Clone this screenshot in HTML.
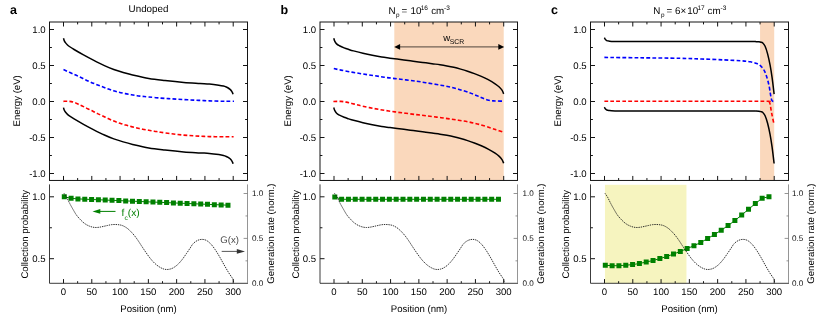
<!DOCTYPE html>
<html><head><meta charset="utf-8"><title>Band diagrams</title>
<style>
html,body{margin:0;padding:0;background:#fff;}
body{width:830px;height:319px;overflow:hidden;font-family:"Liberation Sans", sans-serif;}
svg{display:block;will-change:transform;text-rendering:geometricPrecision;font-family:"Liberation Sans", sans-serif;}
</style></head><body>
<svg width="830" height="319" viewBox="0 0 830 319">
<rect width="830" height="319" fill="#fff"/>
<rect x="49.5" y="22" width="198" height="158.45" fill="none" stroke="#141414" stroke-width="1"/>
<path d="M63.5 22v4.5M63.5 180.45v-4.5M63.5 283.3v-4.2M77.64 22v2.4M77.64 180.45v-2.4M77.64 283.3v-2.1M91.79 22v4.5M91.79 180.45v-4.5M91.79 283.3v-4.2M105.93 22v2.4M105.93 180.45v-2.4M105.93 283.3v-2.1M120.07 22v4.5M120.07 180.45v-4.5M120.07 283.3v-4.2M134.21 22v2.4M134.21 180.45v-2.4M134.21 283.3v-2.1M148.36 22v4.5M148.36 180.45v-4.5M148.36 283.3v-4.2M162.5 22v2.4M162.5 180.45v-2.4M162.5 283.3v-2.1M176.64 22v4.5M176.64 180.45v-4.5M176.64 283.3v-4.2M190.79 22v2.4M190.79 180.45v-2.4M190.79 283.3v-2.1M204.93 22v4.5M204.93 180.45v-4.5M204.93 283.3v-4.2M219.07 22v2.4M219.07 180.45v-2.4M219.07 283.3v-2.1M233.21 22v4.5M233.21 180.45v-4.5M233.21 283.3v-4.2M49.5 173.5h4.5M247.5 173.5h-4.5M49.5 155.5h2.4M247.5 155.5h-2.4M49.5 137.5h4.5M247.5 137.5h-4.5M49.5 119.5h2.4M247.5 119.5h-2.4M49.5 101.5h4.5M247.5 101.5h-4.5M49.5 83.5h2.4M247.5 83.5h-2.4M49.5 65.5h4.5M247.5 65.5h-4.5M49.5 47.5h2.4M247.5 47.5h-2.4M49.5 29.5h4.5M247.5 29.5h-4.5M49.5 196.8h4.5M49.5 227.75h2.4M49.5 258.7h4.5" fill="none" stroke="#141414" stroke-width="1"/>
<path d="M49.5 184.4V283.3H248" fill="none" stroke="#262626" stroke-width="0.9"/>
<path d="M247.5 184.4V283.3M247.5 193.5h-3.9M247.5 215.95h-2M247.5 238.4h-3.9M247.5 260.85h-2" fill="none" stroke="#7a7a7a" stroke-width="0.8"/>
<text x="45.7" y="32.7" font-size="9.6" text-anchor="end" fill="#000">1.0</text>
<text x="45.7" y="68.7" font-size="9.6" text-anchor="end" fill="#000">0.5</text>
<text x="45.7" y="104.7" font-size="9.6" text-anchor="end" fill="#000">0.0</text>
<text x="45.7" y="140.7" font-size="9.6" text-anchor="end" fill="#000">-0.5</text>
<text x="45.7" y="176.7" font-size="9.6" text-anchor="end" fill="#000">-1.0</text>
<text x="45.6" y="200" font-size="9.6" text-anchor="end" fill="#000">1.0</text>
<text x="45.6" y="261.9" font-size="9.6" text-anchor="end" fill="#000">0.5</text>
<text x="252" y="196.2" font-size="8.1" text-anchor="start" fill="#111">1.0</text>
<text x="252" y="241.1" font-size="8.1" text-anchor="start" fill="#111">0.5</text>
<text x="252" y="286" font-size="8.1" text-anchor="start" fill="#111">0.0</text>
<text x="63.5" y="295.3" font-size="9.6" text-anchor="middle" fill="#000">0</text>
<text x="91.79" y="295.3" font-size="9.6" text-anchor="middle" fill="#000">50</text>
<text x="120.07" y="295.3" font-size="9.6" text-anchor="middle" fill="#000">100</text>
<text x="148.36" y="295.3" font-size="9.6" text-anchor="middle" fill="#000">150</text>
<text x="176.64" y="295.3" font-size="9.6" text-anchor="middle" fill="#000">200</text>
<text x="204.93" y="295.3" font-size="9.6" text-anchor="middle" fill="#000">250</text>
<text x="233.21" y="295.3" font-size="9.6" text-anchor="middle" fill="#000">300</text>
<text x="148.5" y="312.1" font-size="9.6" text-anchor="middle" fill="#000">Position (nm)</text>
<text transform="translate(20.1 100.8) rotate(-90)" font-size="9.6" text-anchor="middle">Energy (eV)</text>
<text transform="translate(28.2 234.3) rotate(-90)" font-size="9.6" text-anchor="middle">Collection probability</text>
<text transform="translate(273.8 233.6) rotate(-90)" font-size="9.6" text-anchor="middle">Generation rate (norm.)</text>
<text x="10.1" y="14.2" font-size="12.5" text-anchor="start" fill="#000" font-weight="bold">a</text>
<text x="148.5" y="12.4" font-size="9.8" text-anchor="middle">Undoped</text>
<g transform="translate(0 0)" fill="none">
<path d="M63.5 38.2C63.62 38.6 63.85 39.82 64.2 40.6C64.55 41.38 65.05 42.17 65.6 42.9C66.15 43.63 66.87 44.4 67.5 45C68.13 45.6 68.3 45.75 69.4 46.5C70.5 47.25 71.75 48.1 74.1 49.5C76.45 50.9 80.37 53.17 83.5 54.9C86.63 56.63 89.42 58.12 92.9 59.9C96.38 61.68 100.92 64 104.4 65.6C107.88 67.2 110.67 68.35 113.8 69.5C116.93 70.65 120.07 71.58 123.2 72.5C126.33 73.42 128.33 74 132.6 75C136.87 76 143.4 77.57 148.8 78.5C154.2 79.43 159.17 79.93 165 80.6C170.83 81.27 177.97 82.02 183.8 82.5C189.63 82.98 195.73 83.24 200 83.5C204.27 83.76 206.27 83.77 209.4 84.05C212.53 84.33 216.45 84.86 218.8 85.2C221.15 85.54 222.25 85.79 223.5 86.1C224.75 86.41 225.52 86.73 226.3 87.05C227.08 87.37 227.57 87.61 228.2 88C228.83 88.39 229.55 88.9 230.1 89.4C230.65 89.9 231.11 90.45 231.5 91C231.89 91.55 232.18 92.15 232.45 92.7C232.72 93.25 232.99 94.03 233.1 94.3" stroke="#000" stroke-width="1.5"/>
<path d="M63.5 107.6C63.62 108 63.85 109.22 64.2 110C64.55 110.78 65.05 111.57 65.6 112.3C66.15 113.03 66.87 113.8 67.5 114.4C68.13 115 68.3 115.15 69.4 115.9C70.5 116.65 71.75 117.5 74.1 118.9C76.45 120.3 80.37 122.57 83.5 124.3C86.63 126.03 89.42 127.52 92.9 129.3C96.38 131.08 100.92 133.4 104.4 135C107.88 136.6 110.67 137.75 113.8 138.9C116.93 140.05 120.07 140.98 123.2 141.9C126.33 142.82 128.33 143.4 132.6 144.4C136.87 145.4 143.4 146.97 148.8 147.9C154.2 148.83 159.17 149.33 165 150C170.83 150.67 177.97 151.42 183.8 151.9C189.63 152.38 195.73 152.64 200 152.9C204.27 153.16 206.27 153.17 209.4 153.45C212.53 153.73 216.45 154.26 218.8 154.6C221.15 154.94 222.25 155.19 223.5 155.5C224.75 155.81 225.52 156.13 226.3 156.45C227.08 156.77 227.57 157.01 228.2 157.4C228.83 157.79 229.55 158.3 230.1 158.8C230.65 159.3 231.11 159.85 231.5 160.4C231.89 160.95 232.18 161.55 232.45 162.1C232.72 162.65 232.99 163.43 233.1 163.7" stroke="#000" stroke-width="1.5"/>
<path d="M63.5 69.6C64.48 70.05 67.48 71.43 69.4 72.3C71.32 73.17 73.28 74.02 75 74.8C76.72 75.58 78.05 76.22 79.7 77C81.35 77.78 83.17 78.68 84.9 79.5C86.63 80.32 88.3 81.12 90.1 81.9C91.9 82.68 93.82 83.45 95.7 84.2C97.58 84.95 99.45 85.65 101.4 86.4C103.35 87.15 105.38 87.98 107.4 88.7C109.42 89.42 111.55 90.1 113.5 90.7C115.45 91.3 117.15 91.82 119.1 92.3C121.05 92.78 123.17 93.2 125.2 93.6C127.23 94 129.33 94.35 131.3 94.7C133.27 95.05 135.12 95.43 137 95.7C138.88 95.97 140.65 96.13 142.6 96.35C144.55 96.57 145.67 96.71 148.7 97C151.73 97.29 156.97 97.79 160.8 98.1C164.63 98.41 168.08 98.62 171.7 98.85C175.32 99.08 178.88 99.29 182.5 99.5C186.12 99.71 189.78 99.92 193.4 100.1C197.02 100.28 200.58 100.44 204.2 100.6C207.82 100.76 211.48 100.93 215.1 101.05C218.72 101.17 222.75 101.26 225.9 101.3C229.05 101.34 232.65 101.3 234 101.3" stroke="#0000ff" stroke-width="1.6" stroke-dasharray="3.8 2.2"/>
<path d="M63.4 101.35C64.08 101.33 66.18 101.21 67.5 101.25C68.82 101.29 70.05 101.34 71.3 101.6C72.55 101.86 73.75 102.32 75 102.8C76.25 103.28 77.38 103.87 78.8 104.5C80.22 105.13 81.93 105.85 83.5 106.6C85.07 107.35 86.63 108.23 88.2 109C89.77 109.77 91.33 110.43 92.9 111.2C94.47 111.97 96.03 112.85 97.6 113.6C99.17 114.35 100.57 114.88 102.3 115.7C104.03 116.52 106.07 117.6 108 118.5C109.93 119.4 111.9 120.3 113.9 121.1C115.9 121.9 118.03 122.63 120 123.3C121.97 123.97 123.82 124.55 125.7 125.1C127.58 125.65 129.42 126.12 131.3 126.6C133.18 127.08 135.12 127.56 137 128C138.88 128.44 140.65 128.87 142.6 129.25C144.55 129.63 146.75 129.98 148.7 130.3C150.65 130.62 152.28 130.87 154.3 131.2C156.32 131.53 157.9 131.87 160.8 132.3C163.7 132.73 168.08 133.35 171.7 133.8C175.32 134.25 178.88 134.67 182.5 135C186.12 135.33 189.78 135.57 193.4 135.8C197.02 136.03 200.58 136.25 204.2 136.4C207.82 136.55 211.48 136.63 215.1 136.7C218.72 136.77 222.82 136.8 225.9 136.8C228.98 136.8 232.32 136.72 233.6 136.7" stroke="#ff0000" stroke-width="1.6" stroke-dasharray="3.8 2.2"/>
<polyline points="64.3,196.8 71.12,198.3 77.94,198.9 84.76,199.19 91.58,199.47 98.4,199.76 105.22,200.05 112.04,200.33 118.86,200.62 125.68,200.9 132.5,201.19 139.32,201.48 146.14,201.76 152.96,202.05 159.78,202.34 166.6,202.62 173.42,202.91 180.24,203.2 187.06,203.48 193.88,203.77 200.7,204.05 207.52,204.34 214.34,204.63 221.16,204.91 227.98,205.2" stroke="#008000" stroke-width="1"/>
<path d="M61.8 194.3h5v5h-5zM68.62 195.8h5v5h-5zM75.44 196.4h5v5h-5zM82.26 196.69h5v5h-5zM89.08 196.97h5v5h-5zM95.9 197.26h5v5h-5zM102.72 197.55h5v5h-5zM109.54 197.83h5v5h-5zM116.36 198.12h5v5h-5zM123.18 198.4h5v5h-5zM130 198.69h5v5h-5zM136.82 198.98h5v5h-5zM143.64 199.26h5v5h-5zM150.46 199.55h5v5h-5zM157.28 199.84h5v5h-5zM164.1 200.12h5v5h-5zM170.92 200.41h5v5h-5zM177.74 200.7h5v5h-5zM184.56 200.98h5v5h-5zM191.38 201.27h5v5h-5zM198.2 201.55h5v5h-5zM205.02 201.84h5v5h-5zM211.84 202.13h5v5h-5zM218.66 202.41h5v5h-5zM225.48 202.7h5v5h-5z" fill="#008000" stroke="none"/>
<path d="M64 193.3C64.43 193.95 65.62 195.45 66.6 197.2C67.58 198.95 68.8 201.72 69.9 203.8C71 205.88 72.12 207.83 73.2 209.7C74.28 211.57 75.32 213.47 76.4 215C77.48 216.53 78.6 217.7 79.7 218.9C80.8 220.1 81.9 221.25 83 222.2C84.1 223.15 85.2 223.93 86.3 224.6C87.4 225.27 88.5 225.77 89.6 226.2C90.7 226.63 91.8 226.98 92.9 227.2C94 227.42 95.1 227.5 96.2 227.5C97.3 227.5 98.3 227.38 99.5 227.2C100.7 227.02 102.08 226.68 103.4 226.4C104.72 226.12 106.08 225.78 107.4 225.5C108.72 225.22 109.98 224.87 111.3 224.7C112.62 224.53 113.98 224.48 115.3 224.5C116.62 224.52 117.88 224.57 119.2 224.8C120.52 225.03 121.73 225.22 123.2 225.9C124.67 226.58 126.38 227.58 128 228.9C129.62 230.22 131.37 232.07 132.9 233.8C134.43 235.53 135.76 237.28 137.2 239.3C138.64 241.32 140.1 243.72 141.55 245.9C143 248.08 144.46 250.33 145.9 252.4C147.34 254.47 148.77 256.52 150.2 258.3C151.63 260.08 153.07 261.73 154.5 263.1C155.93 264.48 157.37 265.6 158.8 266.55C160.23 267.5 161.81 268.31 163.1 268.8C164.39 269.29 165.4 269.45 166.55 269.5C167.7 269.55 168.86 269.39 170 269.1C171.14 268.81 172.11 268.52 173.4 267.75C174.69 266.98 176.3 265.85 177.75 264.5C179.2 263.15 180.66 261.47 182.1 259.65C183.54 257.83 185.08 255.49 186.4 253.6C187.72 251.71 188.87 249.97 190 248.3C191.13 246.63 191.93 244.92 193.2 243.6C194.47 242.28 196.13 241.1 197.6 240.4C199.07 239.7 200.53 239.4 202 239.4C203.47 239.4 204.94 239.64 206.4 240.4C207.86 241.16 209.29 242.42 210.75 243.95C212.21 245.48 213.69 247.49 215.15 249.6C216.61 251.71 218.04 254.12 219.5 256.6C220.96 259.08 222.43 261.92 223.9 264.5C225.37 267.08 226.98 269.97 228.3 272.1C229.62 274.23 230.98 276.05 231.8 277.3C232.62 278.55 232.95 278.65 233.25 279.6C233.55 280.55 233.54 282.43 233.6 283" stroke="#1a1a1a" stroke-width="0.9" stroke-dasharray="1.4 0.9"/>
</g>
<path d="M115.5 211.4H99" stroke="#008000" stroke-width="1" fill="none"/>
<path d="M92.5 211.4l7.8 -2.4v4.8z" fill="#008000"/>
<text x="121.6" y="216.3" font-size="10.2" fill="#008000">f<tspan dy="3.2" font-size="6.6">c</tspan><tspan dy="-3.2">(x)</tspan></text>
<text x="220.3" y="243" font-size="9.6" fill="#4a4a4a">G(x)</text>
<path d="M221.7 251.4H238" stroke="#444" stroke-width="0.9" fill="none"/>
<path d="M245 251.4l-8.2 -2.4v4.8z" fill="#333"/>
<rect x="394.31" y="22" width="109.41" height="158.45" fill="#FAD8BC"/>
<rect x="320" y="22" width="197.5" height="158.45" fill="none" stroke="#141414" stroke-width="1"/>
<path d="M334 22v4.5M334 180.45v-4.5M334 283.3v-4.2M348.14 22v2.4M348.14 180.45v-2.4M348.14 283.3v-2.1M362.29 22v4.5M362.29 180.45v-4.5M362.29 283.3v-4.2M376.43 22v2.4M376.43 180.45v-2.4M376.43 283.3v-2.1M390.57 22v4.5M390.57 180.45v-4.5M390.57 283.3v-4.2M404.71 22v2.4M404.71 180.45v-2.4M404.71 283.3v-2.1M418.86 22v4.5M418.86 180.45v-4.5M418.86 283.3v-4.2M433 22v2.4M433 180.45v-2.4M433 283.3v-2.1M447.14 22v4.5M447.14 180.45v-4.5M447.14 283.3v-4.2M461.29 22v2.4M461.29 180.45v-2.4M461.29 283.3v-2.1M475.43 22v4.5M475.43 180.45v-4.5M475.43 283.3v-4.2M489.57 22v2.4M489.57 180.45v-2.4M489.57 283.3v-2.1M503.71 22v4.5M503.71 180.45v-4.5M503.71 283.3v-4.2M320 173.5h4.5M517.5 173.5h-4.5M320 155.5h2.4M517.5 155.5h-2.4M320 137.5h4.5M517.5 137.5h-4.5M320 119.5h2.4M517.5 119.5h-2.4M320 101.5h4.5M517.5 101.5h-4.5M320 83.5h2.4M517.5 83.5h-2.4M320 65.5h4.5M517.5 65.5h-4.5M320 47.5h2.4M517.5 47.5h-2.4M320 29.5h4.5M517.5 29.5h-4.5M320 196.8h4.5M320 227.75h2.4M320 258.7h4.5" fill="none" stroke="#141414" stroke-width="1"/>
<path d="M320 184.4V283.3H518" fill="none" stroke="#262626" stroke-width="0.9"/>
<path d="M517.5 184.4V283.3M517.5 193.5h-3.9M517.5 215.95h-2M517.5 238.4h-3.9M517.5 260.85h-2" fill="none" stroke="#7a7a7a" stroke-width="0.8"/>
<text x="316.2" y="32.7" font-size="9.6" text-anchor="end" fill="#000">1.0</text>
<text x="316.2" y="68.7" font-size="9.6" text-anchor="end" fill="#000">0.5</text>
<text x="316.2" y="104.7" font-size="9.6" text-anchor="end" fill="#000">0.0</text>
<text x="316.2" y="140.7" font-size="9.6" text-anchor="end" fill="#000">-0.5</text>
<text x="316.2" y="176.7" font-size="9.6" text-anchor="end" fill="#000">-1.0</text>
<text x="316.1" y="200" font-size="9.6" text-anchor="end" fill="#000">1.0</text>
<text x="316.1" y="261.9" font-size="9.6" text-anchor="end" fill="#000">0.5</text>
<text x="522.5" y="196.2" font-size="8.1" text-anchor="start" fill="#111">1.0</text>
<text x="522.5" y="241.1" font-size="8.1" text-anchor="start" fill="#111">0.5</text>
<text x="522.5" y="286" font-size="8.1" text-anchor="start" fill="#111">0.0</text>
<text x="334" y="295.3" font-size="9.6" text-anchor="middle" fill="#000">0</text>
<text x="362.29" y="295.3" font-size="9.6" text-anchor="middle" fill="#000">50</text>
<text x="390.57" y="295.3" font-size="9.6" text-anchor="middle" fill="#000">100</text>
<text x="418.86" y="295.3" font-size="9.6" text-anchor="middle" fill="#000">150</text>
<text x="447.14" y="295.3" font-size="9.6" text-anchor="middle" fill="#000">200</text>
<text x="475.43" y="295.3" font-size="9.6" text-anchor="middle" fill="#000">250</text>
<text x="503.71" y="295.3" font-size="9.6" text-anchor="middle" fill="#000">300</text>
<text x="419" y="312.1" font-size="9.6" text-anchor="middle" fill="#000">Position (nm)</text>
<text transform="translate(290.6 100.8) rotate(-90)" font-size="9.6" text-anchor="middle">Energy (eV)</text>
<text transform="translate(298.7 234.3) rotate(-90)" font-size="9.6" text-anchor="middle">Collection probability</text>
<text transform="translate(544.3 233.6) rotate(-90)" font-size="9.6" text-anchor="middle">Generation rate (norm.)</text>
<text x="280.6" y="14.2" font-size="12.5" text-anchor="start" fill="#000" font-weight="bold">b</text>
<text font-size="9.8"><tspan x="388.45" y="13.5">N</tspan><tspan x="396" y="17.1" font-size="6.4">p</tspan><tspan x="401.5" y="13.5">=</tspan><tspan x="410.5" y="13.5">10</tspan><tspan x="420.7" y="9.5" font-size="6.5">16</tspan><tspan x="431.2" y="13.5">cm</tspan><tspan x="444.1" y="9.5" font-size="6.5">-3</tspan></text>
<g transform="translate(270.5 0)" fill="none">
<path d="M63.26 38.2C63.42 38.68 63.73 40.1 64.2 41.05C64.67 42 65.32 43.12 66.1 43.9C66.88 44.68 67.65 45.08 68.9 45.75C70.15 46.42 72.03 47.27 73.6 47.9C75.17 48.52 76.73 49 78.3 49.5C79.87 50 80.65 50.27 83 50.9C85.35 51.53 89.27 52.56 92.4 53.3C95.53 54.04 98.67 54.72 101.8 55.35C104.93 55.98 108.25 56.62 111.2 57.1C114.15 57.58 115.82 57.73 119.5 58.2C123.18 58.68 129.43 59.45 133.3 59.95C137.17 60.45 139.57 60.79 142.7 61.2C145.83 61.61 148.97 61.98 152.1 62.4C155.23 62.82 158.6 63.31 161.5 63.7C164.4 64.09 167.02 64.38 169.5 64.75C171.98 65.12 174.1 65.48 176.4 65.9C178.7 66.33 181 66.77 183.3 67.3C185.6 67.83 187.9 68.45 190.2 69.1C192.5 69.75 194.82 70.45 197.1 71.2C199.38 71.95 201.62 72.73 203.9 73.6C206.18 74.47 208.5 75.38 210.8 76.4C213.1 77.42 215.4 78.47 217.7 79.7C220 80.93 222.76 82.58 224.6 83.8C226.44 85.02 227.6 85.93 228.75 87C229.9 88.07 230.76 89.05 231.5 90.2C232.24 91.35 232.92 93.28 233.2 93.9" stroke="#000" stroke-width="1.5"/>
<path d="M63.26 107.6C63.42 108.08 63.73 109.5 64.2 110.45C64.67 111.4 65.32 112.52 66.1 113.3C66.88 114.08 67.65 114.48 68.9 115.15C70.15 115.82 72.03 116.68 73.6 117.3C75.17 117.93 76.73 118.4 78.3 118.9C79.87 119.4 80.65 119.67 83 120.3C85.35 120.93 89.27 121.96 92.4 122.7C95.53 123.44 98.67 124.12 101.8 124.75C104.93 125.38 108.25 126.03 111.2 126.5C114.15 126.97 115.82 127.12 119.5 127.6C123.18 128.08 129.43 128.85 133.3 129.35C137.17 129.85 139.57 130.19 142.7 130.6C145.83 131.01 148.97 131.38 152.1 131.8C155.23 132.22 158.6 132.71 161.5 133.1C164.4 133.49 167.02 133.78 169.5 134.15C171.98 134.52 174.1 134.88 176.4 135.3C178.7 135.73 181 136.17 183.3 136.7C185.6 137.23 187.9 137.85 190.2 138.5C192.5 139.15 194.82 139.85 197.1 140.6C199.38 141.35 201.62 142.13 203.9 143C206.18 143.87 208.5 144.78 210.8 145.8C213.1 146.82 215.4 147.87 217.7 149.1C220 150.33 222.76 151.98 224.6 153.2C226.44 154.42 227.6 155.33 228.75 156.4C229.9 157.47 230.76 158.45 231.5 159.6C232.24 160.75 232.92 162.68 233.2 163.3" stroke="#000" stroke-width="1.5"/>
<path d="M63.3 68.5C64.48 68.77 67.37 69.5 70.35 70.1C73.33 70.7 77.59 71.47 81.2 72.1C84.81 72.73 88.38 73.33 92 73.9C95.62 74.48 99.28 75 102.9 75.55C106.52 76.1 110.08 76.69 113.7 77.2C117.32 77.71 120.98 78.15 124.6 78.6C128.22 79.05 131.78 79.46 135.4 79.9C139.02 80.34 142.97 80.78 146.3 81.25C149.63 81.72 152.03 82.16 155.35 82.7C158.67 83.24 162.59 83.87 166.2 84.5C169.81 85.13 173.38 85.72 177 86.5C180.62 87.28 184.28 88.17 187.9 89.2C191.52 90.23 195.82 91.66 198.7 92.65C201.58 93.64 203.38 94.43 205.2 95.15C207.02 95.88 208.15 96.38 209.6 97C211.05 97.62 212.46 98.37 213.9 98.9C215.34 99.43 216.8 99.88 218.25 100.2C219.7 100.53 221.16 100.71 222.6 100.85C224.04 100.99 225.17 101.01 226.9 101.05C228.63 101.09 231.98 101.09 233 101.1" stroke="#0000ff" stroke-width="1.6" stroke-dasharray="3.8 2.2"/>
<path d="M62.9 101.5C64.14 101.48 68.2 101.3 70.35 101.4C72.5 101.5 73.99 101.77 75.8 102.1C77.61 102.43 79.4 102.94 81.2 103.4C83 103.86 84.8 104.39 86.6 104.85C88.4 105.31 89.28 105.56 92 106.15C94.72 106.74 99.28 107.71 102.9 108.4C106.52 109.09 110.08 109.72 113.7 110.3C117.32 110.88 120.98 111.4 124.6 111.9C128.22 112.4 131.83 112.84 135.4 113.3C138.97 113.76 142.67 114.24 146 114.65C149.33 115.06 151.98 115.33 155.35 115.75C158.72 116.17 162.59 116.68 166.2 117.15C169.81 117.62 173.38 118.09 177 118.6C180.62 119.11 184.28 119.62 187.9 120.2C191.52 120.78 195.08 121.31 198.7 122.05C202.32 122.79 205.98 123.66 209.6 124.65C213.22 125.64 217.69 127.12 220.4 128C223.11 128.88 224.22 129.35 225.85 129.9C227.48 130.45 229.01 130.9 230.2 131.3C231.39 131.7 232.53 132.13 233 132.3" stroke="#ff0000" stroke-width="1.6" stroke-dasharray="3.8 2.2"/>
<polyline points="64.3,197 71.12,199.3 77.94,199.3 84.76,199.3 91.58,199.3 98.4,199.3 105.22,199.3 112.04,199.3 118.86,199.3 125.68,199.3 132.5,199.3 139.32,199.3 146.14,199.3 152.96,199.3 159.78,199.3 166.6,199.3 173.42,199.3 180.24,199.3 187.06,199.3 193.88,199.3 200.7,199.3 207.52,199.3 214.34,199.3 221.16,199.3 227.98,199.3" stroke="#008000" stroke-width="1"/>
<path d="M61.8 194.5h5v5h-5zM68.62 196.8h5v5h-5zM75.44 196.8h5v5h-5zM82.26 196.8h5v5h-5zM89.08 196.8h5v5h-5zM95.9 196.8h5v5h-5zM102.72 196.8h5v5h-5zM109.54 196.8h5v5h-5zM116.36 196.8h5v5h-5zM123.18 196.8h5v5h-5zM130 196.8h5v5h-5zM136.82 196.8h5v5h-5zM143.64 196.8h5v5h-5zM150.46 196.8h5v5h-5zM157.28 196.8h5v5h-5zM164.1 196.8h5v5h-5zM170.92 196.8h5v5h-5zM177.74 196.8h5v5h-5zM184.56 196.8h5v5h-5zM191.38 196.8h5v5h-5zM198.2 196.8h5v5h-5zM205.02 196.8h5v5h-5zM211.84 196.8h5v5h-5zM218.66 196.8h5v5h-5zM225.48 196.8h5v5h-5z" fill="#008000" stroke="none"/>
<path d="M64 193.3C64.43 193.95 65.62 195.45 66.6 197.2C67.58 198.95 68.8 201.72 69.9 203.8C71 205.88 72.12 207.83 73.2 209.7C74.28 211.57 75.32 213.47 76.4 215C77.48 216.53 78.6 217.7 79.7 218.9C80.8 220.1 81.9 221.25 83 222.2C84.1 223.15 85.2 223.93 86.3 224.6C87.4 225.27 88.5 225.77 89.6 226.2C90.7 226.63 91.8 226.98 92.9 227.2C94 227.42 95.1 227.5 96.2 227.5C97.3 227.5 98.3 227.38 99.5 227.2C100.7 227.02 102.08 226.68 103.4 226.4C104.72 226.12 106.08 225.78 107.4 225.5C108.72 225.22 109.98 224.87 111.3 224.7C112.62 224.53 113.98 224.48 115.3 224.5C116.62 224.52 117.88 224.57 119.2 224.8C120.52 225.03 121.73 225.22 123.2 225.9C124.67 226.58 126.38 227.58 128 228.9C129.62 230.22 131.37 232.07 132.9 233.8C134.43 235.53 135.76 237.28 137.2 239.3C138.64 241.32 140.1 243.72 141.55 245.9C143 248.08 144.46 250.33 145.9 252.4C147.34 254.47 148.77 256.52 150.2 258.3C151.63 260.08 153.07 261.73 154.5 263.1C155.93 264.48 157.37 265.6 158.8 266.55C160.23 267.5 161.81 268.31 163.1 268.8C164.39 269.29 165.4 269.45 166.55 269.5C167.7 269.55 168.86 269.39 170 269.1C171.14 268.81 172.11 268.52 173.4 267.75C174.69 266.98 176.3 265.85 177.75 264.5C179.2 263.15 180.66 261.47 182.1 259.65C183.54 257.83 185.08 255.49 186.4 253.6C187.72 251.71 188.87 249.97 190 248.3C191.13 246.63 191.93 244.92 193.2 243.6C194.47 242.28 196.13 241.1 197.6 240.4C199.07 239.7 200.53 239.4 202 239.4C203.47 239.4 204.94 239.64 206.4 240.4C207.86 241.16 209.29 242.42 210.75 243.95C212.21 245.48 213.69 247.49 215.15 249.6C216.61 251.71 218.04 254.12 219.5 256.6C220.96 259.08 222.43 261.92 223.9 264.5C225.37 267.08 226.98 269.97 228.3 272.1C229.62 274.23 230.98 276.05 231.8 277.3C232.62 278.55 232.95 278.65 233.25 279.6C233.55 280.55 233.54 282.43 233.6 283" stroke="#1a1a1a" stroke-width="0.9" stroke-dasharray="1.4 0.9"/>
</g>
<path d="M398.31 46.9H499.71" stroke="#000" stroke-opacity="0.55" stroke-width="1.1" fill="none"/>
<path d="M394.21 46.9l5.9 -2.9v5.8z" fill="#000"/>
<path d="M504.21 46.9l-5.9 -2.9v5.8z" fill="#000"/>
<text x="443.3" y="40.9" font-size="9.6">w<tspan dy="2.8" dx="-0.6" font-size="6.9">SCR</tspan></text>
<rect x="760.07" y="22" width="14.14" height="158.45" fill="#FAD8BC"/>
<rect x="604.95" y="184.8" width="81.52" height="98.5" fill="#F6F4BF"/>
<rect x="590.5" y="22" width="198" height="158.45" fill="none" stroke="#141414" stroke-width="1"/>
<path d="M604.5 22v4.5M604.5 180.45v-4.5M604.5 283.3v-4.2M618.64 22v2.4M618.64 180.45v-2.4M618.64 283.3v-2.1M632.79 22v4.5M632.79 180.45v-4.5M632.79 283.3v-4.2M646.93 22v2.4M646.93 180.45v-2.4M646.93 283.3v-2.1M661.07 22v4.5M661.07 180.45v-4.5M661.07 283.3v-4.2M675.21 22v2.4M675.21 180.45v-2.4M675.21 283.3v-2.1M689.36 22v4.5M689.36 180.45v-4.5M689.36 283.3v-4.2M703.5 22v2.4M703.5 180.45v-2.4M703.5 283.3v-2.1M717.64 22v4.5M717.64 180.45v-4.5M717.64 283.3v-4.2M731.79 22v2.4M731.79 180.45v-2.4M731.79 283.3v-2.1M745.93 22v4.5M745.93 180.45v-4.5M745.93 283.3v-4.2M760.07 22v2.4M760.07 180.45v-2.4M760.07 283.3v-2.1M774.21 22v4.5M774.21 180.45v-4.5M774.21 283.3v-4.2M590.5 173.5h4.5M788.5 173.5h-4.5M590.5 155.5h2.4M788.5 155.5h-2.4M590.5 137.5h4.5M788.5 137.5h-4.5M590.5 119.5h2.4M788.5 119.5h-2.4M590.5 101.5h4.5M788.5 101.5h-4.5M590.5 83.5h2.4M788.5 83.5h-2.4M590.5 65.5h4.5M788.5 65.5h-4.5M590.5 47.5h2.4M788.5 47.5h-2.4M590.5 29.5h4.5M788.5 29.5h-4.5M590.5 196.8h4.5M590.5 227.75h2.4M590.5 258.7h4.5" fill="none" stroke="#141414" stroke-width="1"/>
<path d="M590.5 184.4V283.3H789" fill="none" stroke="#262626" stroke-width="0.9"/>
<path d="M788.5 184.4V283.3M788.5 193.5h-3.9M788.5 215.95h-2M788.5 238.4h-3.9M788.5 260.85h-2" fill="none" stroke="#7a7a7a" stroke-width="0.8"/>
<text x="586.7" y="32.7" font-size="9.6" text-anchor="end" fill="#000">1.0</text>
<text x="586.7" y="68.7" font-size="9.6" text-anchor="end" fill="#000">0.5</text>
<text x="586.7" y="104.7" font-size="9.6" text-anchor="end" fill="#000">0.0</text>
<text x="586.7" y="140.7" font-size="9.6" text-anchor="end" fill="#000">-0.5</text>
<text x="586.7" y="176.7" font-size="9.6" text-anchor="end" fill="#000">-1.0</text>
<text x="586.6" y="200" font-size="9.6" text-anchor="end" fill="#000">1.0</text>
<text x="586.6" y="261.9" font-size="9.6" text-anchor="end" fill="#000">0.5</text>
<text x="792.1" y="196.2" font-size="8.1" text-anchor="start" fill="#111">1.0</text>
<text x="792.1" y="241.1" font-size="8.1" text-anchor="start" fill="#111">0.5</text>
<text x="792.1" y="286" font-size="8.1" text-anchor="start" fill="#111">0.0</text>
<text x="604.5" y="295.3" font-size="9.6" text-anchor="middle" fill="#000">0</text>
<text x="632.79" y="295.3" font-size="9.6" text-anchor="middle" fill="#000">50</text>
<text x="661.07" y="295.3" font-size="9.6" text-anchor="middle" fill="#000">100</text>
<text x="689.36" y="295.3" font-size="9.6" text-anchor="middle" fill="#000">150</text>
<text x="717.64" y="295.3" font-size="9.6" text-anchor="middle" fill="#000">200</text>
<text x="745.93" y="295.3" font-size="9.6" text-anchor="middle" fill="#000">250</text>
<text x="774.21" y="295.3" font-size="9.6" text-anchor="middle" fill="#000">300</text>
<text x="689.5" y="312.1" font-size="9.6" text-anchor="middle" fill="#000">Position (nm)</text>
<text transform="translate(561.1 100.8) rotate(-90)" font-size="9.6" text-anchor="middle">Energy (eV)</text>
<text transform="translate(569.2 234.3) rotate(-90)" font-size="9.6" text-anchor="middle">Collection probability</text>
<text transform="translate(813.9 233.6) rotate(-90)" font-size="9.6" text-anchor="middle">Generation rate (norm.)</text>
<text x="551.1" y="14.2" font-size="12.5" text-anchor="start" fill="#000" font-weight="bold">c</text>
<text font-size="9.8"><tspan x="653.2" y="13.5">N</tspan><tspan x="661" y="17.1" font-size="6.4">p</tspan><tspan x="666.4" y="13.5">=</tspan><tspan x="675" y="13.5">6</tspan><tspan x="680.5" y="13.5">&#215;</tspan><tspan x="687.2" y="13.5">10</tspan><tspan x="697.4" y="9.5" font-size="6.5">17</tspan><tspan x="707.5" y="13.5">cm</tspan><tspan x="720.6" y="9.5" font-size="6.5">-3</tspan></text>
<g transform="translate(541 0)" fill="none">
<path d="M63.4 37.7C63.55 37.98 63.93 38.93 64.3 39.4C64.67 39.87 65.02 40.22 65.6 40.5C66.18 40.78 66.4 40.93 67.8 41.1C69.2 41.27 68.8 41.42 74 41.5C79.2 41.58 84.83 41.58 99 41.6C113.17 41.62 140.67 41.6 159 41.6C177.33 41.6 199.67 41.59 209 41.6C218.33 41.61 213.5 41.62 215 41.65C216.5 41.68 217.17 41.71 218 41.8C218.83 41.89 219.4 42.02 220 42.2C220.6 42.38 220.92 42.22 221.6 42.9C222.28 43.58 223.27 44.47 224.1 46.3C224.93 48.13 225.77 50.75 226.6 53.9C227.43 57.05 228.35 61.23 229.1 65.2C229.85 69.17 230.43 72.88 231.1 77.7C231.77 82.52 232.77 91.37 233.1 94.1" stroke="#000" stroke-width="1.5"/>
<path d="M63.4 107.1C63.55 107.38 63.93 108.33 64.3 108.8C64.67 109.27 65.02 109.62 65.6 109.9C66.18 110.18 66.4 110.33 67.8 110.5C69.2 110.67 68.8 110.82 74 110.9C79.2 110.98 84.83 110.98 99 111C113.17 111.02 140.67 111 159 111C177.33 111 199.67 110.99 209 111C218.33 111.01 213.5 111.02 215 111.05C216.5 111.08 217.17 111.11 218 111.2C218.83 111.29 219.4 111.42 220 111.6C220.6 111.78 220.92 111.62 221.6 112.3C222.28 112.98 223.27 113.87 224.1 115.7C224.93 117.53 225.77 120.15 226.6 123.3C227.43 126.45 228.35 130.63 229.1 134.6C229.85 138.57 230.43 142.28 231.1 147.1C231.77 151.92 232.77 160.77 233.1 163.5" stroke="#000" stroke-width="1.5"/>
<path d="M63.4 57.4C69.33 57.47 86.4 57.65 99 57.8C111.6 57.95 128.68 58.1 139 58.3C149.32 58.5 153.58 58.73 160.9 59C168.22 59.27 176.32 59.6 182.9 59.9C189.48 60.2 196.02 60.48 200.4 60.8C204.78 61.12 206.63 61.33 209.2 61.8C211.77 62.27 213.98 62.83 215.8 63.6C217.62 64.37 218.83 65.2 220.1 66.4C221.37 67.6 222.48 69.13 223.4 70.8C224.32 72.47 224.87 74.12 225.6 76.4C226.33 78.68 227.2 81.8 227.8 84.5C228.4 87.2 228.78 90.22 229.2 92.6C229.62 94.98 229.95 97.4 230.3 98.8C230.65 100.2 230.83 100.55 231.3 101C231.77 101.45 232.8 101.42 233.1 101.5" stroke="#0000ff" stroke-width="1.6" stroke-dasharray="3.8 2.2"/>
<path d="M63.4 101.3C79.33 101.3 132.4 101.3 159 101.3C185.6 101.3 211.62 101.3 223 101.3C234.38 101.3 226.42 101.2 227.3 101.3C228.18 101.4 228.03 101.55 228.3 101.9C228.57 102.25 228.7 102.67 228.9 103.4C229.1 104.13 229.2 104.63 229.5 106.3C229.8 107.97 230.15 110.58 230.7 113.4C231.25 116.22 232.45 121.57 232.8 123.2" stroke="#ff0000" stroke-width="1.6" stroke-dasharray="3.8 2.2"/>
<polyline points="64.3,265.3 71.12,265.7 77.94,265.7 84.76,265.2 91.58,264.6 98.4,263.5 105.22,262 112.04,260.5 118.86,258.6 125.68,256.5 132.5,254.1 139.32,251.4 146.14,248.6 152.96,245.7 159.78,242.5 166.6,238.5 173.42,234.6 180.24,230.2 187.06,225.6 193.88,220.5 200.7,215 207.52,209.3 214.34,203.6 221.16,198.2 227.98,196.8" stroke="#008000" stroke-width="1"/>
<path d="M61.8 262.8h5v5h-5zM68.62 263.2h5v5h-5zM75.44 263.2h5v5h-5zM82.26 262.7h5v5h-5zM89.08 262.1h5v5h-5zM95.9 261h5v5h-5zM102.72 259.5h5v5h-5zM109.54 258h5v5h-5zM116.36 256.1h5v5h-5zM123.18 254h5v5h-5zM130 251.6h5v5h-5zM136.82 248.9h5v5h-5zM143.64 246.1h5v5h-5zM150.46 243.2h5v5h-5zM157.28 240h5v5h-5zM164.1 236h5v5h-5zM170.92 232.1h5v5h-5zM177.74 227.7h5v5h-5zM184.56 223.1h5v5h-5zM191.38 218h5v5h-5zM198.2 212.5h5v5h-5zM205.02 206.8h5v5h-5zM211.84 201.1h5v5h-5zM218.66 195.7h5v5h-5zM225.48 194.3h5v5h-5z" fill="#008000" stroke="none"/>
<path d="M64 193.3C64.43 193.95 65.62 195.45 66.6 197.2C67.58 198.95 68.8 201.72 69.9 203.8C71 205.88 72.12 207.83 73.2 209.7C74.28 211.57 75.32 213.47 76.4 215C77.48 216.53 78.6 217.7 79.7 218.9C80.8 220.1 81.9 221.25 83 222.2C84.1 223.15 85.2 223.93 86.3 224.6C87.4 225.27 88.5 225.77 89.6 226.2C90.7 226.63 91.8 226.98 92.9 227.2C94 227.42 95.1 227.5 96.2 227.5C97.3 227.5 98.3 227.38 99.5 227.2C100.7 227.02 102.08 226.68 103.4 226.4C104.72 226.12 106.08 225.78 107.4 225.5C108.72 225.22 109.98 224.87 111.3 224.7C112.62 224.53 113.98 224.48 115.3 224.5C116.62 224.52 117.88 224.57 119.2 224.8C120.52 225.03 121.73 225.22 123.2 225.9C124.67 226.58 126.38 227.58 128 228.9C129.62 230.22 131.37 232.07 132.9 233.8C134.43 235.53 135.76 237.28 137.2 239.3C138.64 241.32 140.1 243.72 141.55 245.9C143 248.08 144.46 250.33 145.9 252.4C147.34 254.47 148.77 256.52 150.2 258.3C151.63 260.08 153.07 261.73 154.5 263.1C155.93 264.48 157.37 265.6 158.8 266.55C160.23 267.5 161.81 268.31 163.1 268.8C164.39 269.29 165.4 269.45 166.55 269.5C167.7 269.55 168.86 269.39 170 269.1C171.14 268.81 172.11 268.52 173.4 267.75C174.69 266.98 176.3 265.85 177.75 264.5C179.2 263.15 180.66 261.47 182.1 259.65C183.54 257.83 185.08 255.49 186.4 253.6C187.72 251.71 188.87 249.97 190 248.3C191.13 246.63 191.93 244.92 193.2 243.6C194.47 242.28 196.13 241.1 197.6 240.4C199.07 239.7 200.53 239.4 202 239.4C203.47 239.4 204.94 239.64 206.4 240.4C207.86 241.16 209.29 242.42 210.75 243.95C212.21 245.48 213.69 247.49 215.15 249.6C216.61 251.71 218.04 254.12 219.5 256.6C220.96 259.08 222.43 261.92 223.9 264.5C225.37 267.08 226.98 269.97 228.3 272.1C229.62 274.23 230.98 276.05 231.8 277.3C232.62 278.55 232.95 278.65 233.25 279.6C233.55 280.55 233.54 282.43 233.6 283" stroke="#1a1a1a" stroke-width="0.9" stroke-dasharray="1.4 0.9"/>
</g>
</svg>
</body></html>
